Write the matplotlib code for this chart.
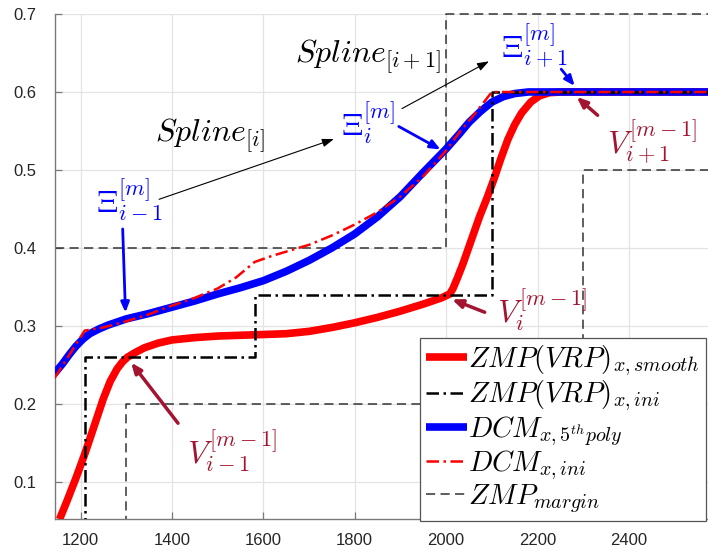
import matplotlib
matplotlib.use("Agg")
import matplotlib.pyplot as plt
import numpy as np

plt.rcParams['mathtext.fontset'] = 'cm'
plt.rcParams['font.family'] = ['Liberation Sans', 'DejaVu Sans']

# ---------------- data ----------------
zmp_smooth_x = [1154, 1170, 1190, 1210, 1230, 1250, 1265, 1280, 1292, 1303, 1320, 1340, 1370, 1400,
                1450, 1500, 1550, 1600, 1650, 1700, 1750, 1800, 1850, 1900, 1950, 1990, 2008,
                2015, 2025, 2037, 2055, 2073, 2090, 2105, 2120, 2135, 2150, 2165, 2185, 2204,
                2225, 2250, 2600]
zmp_smooth_y = [0.052, 0.075, 0.105, 0.137, 0.172, 0.207, 0.229, 0.245, 0.254, 0.260, 0.266, 0.272,
                0.278, 0.282, 0.285, 0.287, 0.288, 0.289, 0.290, 0.293, 0.298, 0.304, 0.311, 0.319,
                0.328, 0.336, 0.341, 0.348, 0.362, 0.380, 0.410, 0.440, 0.465, 0.489, 0.515, 0.539,
                0.558, 0.573, 0.587, 0.595, 0.599, 0.600, 0.600]

zmp_ini_x = [1209, 1209, 1581, 2100, 2600]
zmp_ini_y = [0.0, 0.26, 0.34, 0.60, 0.60]

dcm_poly_x = [1143, 1160, 1175, 1190, 1205, 1220, 1240, 1260, 1280, 1300, 1350, 1400, 1450, 1500,
              1550, 1600, 1650, 1700, 1750, 1800, 1850, 1900, 1950, 2000, 2030, 2050, 2075, 2100,
              2125, 2150, 2180, 2226, 2600]
dcm_poly_y = [0.239, 0.251, 0.263, 0.274, 0.283, 0.290, 0.296, 0.301, 0.305, 0.309, 0.316, 0.324,
              0.332, 0.341, 0.349, 0.358, 0.370, 0.384, 0.400, 0.418, 0.440, 0.466, 0.497, 0.527,
              0.547, 0.561, 0.575, 0.587, 0.594, 0.598, 0.600, 0.600, 0.600]

dcm_ini_x = [1143, 1209, 1250, 1300, 1350, 1400, 1450, 1500, 1540, 1581, 1620, 1660, 1700, 1750,
             1800, 1850, 1900, 1950, 2000, 2030, 2060, 2100, 2600]
dcm_ini_y = [0.233, 0.294, 0.298, 0.306, 0.315, 0.326, 0.336, 0.348, 0.362, 0.382, 0.390, 0.397,
             0.404, 0.416, 0.430, 0.446, 0.466, 0.492, 0.525, 0.549, 0.570, 0.600, 0.600]

margin_up_x = [1143, 2000, 2600]
margin_up_y = [0.40, 0.70, 0.70]
margin_lo_x = [1300, 1300, 2300, 2600]
margin_lo_y = [0.0, 0.20, 0.50, 0.50]

xticks = [1200, 1400, 1600, 1800, 2000, 2200, 2400]
yticks = [0.1, 0.2, 0.3, 0.4, 0.5, 0.6, 0.7]

labels = [r'$ZMP(VRP)_{x,smooth}$', r'$ZMP(VRP)_{x,ini}$', r'$DCM_{x,5^{th}poly}$',
          r'$DCM_{x,ini}$', r'$ZMP_{margin}$']

# ---------------- figure ----------------
W, H = 708, 553
fig = plt.figure(figsize=(W / 100, H / 100), dpi=100)
xlim = (1143, 2600)
ppx = 0.457  # px per unit
left_px, top_px, bot_px = 54.5, 14.0, 519.3
width_px = (xlim[1] - xlim[0]) * ppx
ax = fig.add_axes([left_px / W, 1 - bot_px / H, width_px / W, (bot_px - top_px) / H])
ax.set_xlim(*xlim)
ax.set_ylim(0.052, 0.7)

darkred = '#A2142F'

l1, = ax.plot(zmp_smooth_x, zmp_smooth_y, color='red', lw=5.5, solid_capstyle='butt',
              solid_joinstyle='round', zorder=3)
l2, = ax.plot(zmp_ini_x, zmp_ini_y, color='black', lw=1.8, drawstyle='steps-post',
              dashes=(5, 1.8, 1, 1.8), zorder=4)
l3, = ax.plot(dcm_poly_x, dcm_poly_y, color='blue', lw=5.5, solid_capstyle='butt',
              solid_joinstyle='round', zorder=3)
l4, = ax.plot(dcm_ini_x, dcm_ini_y, color='red', lw=1.8, dashes=(5, 1.8, 1, 1.8), zorder=4)
l5, = ax.plot(margin_up_x, margin_up_y, color='#333333', lw=1.1, drawstyle='steps-post',
              dashes=(6, 3.5), zorder=2, clip_on=False)
ax.plot(margin_lo_x, margin_lo_y, color='#333333', lw=1.1, drawstyle='steps-post',
        dashes=(6, 3.5), zorder=2)

# axes styling
ax.set_xticks(xticks)
ax.set_yticks(yticks)
ax.set_xticklabels([str(t) for t in xticks])
ax.set_yticklabels([f'{t:.1f}' for t in yticks])
ax.grid(True, color='#e3e3e3', lw=0.9)
ax.set_axisbelow(True)
for s in ['top', 'right']:
    ax.spines[s].set_visible(False)
for s in ['left', 'bottom']:
    ax.spines[s].set_color('#7a7a7a')
    ax.spines[s].set_linewidth(1.0)
ax.tick_params(axis='both', direction='in', length=5, width=0.9, color='#7a7a7a',
               labelsize=12, labelcolor='#262626')
ax.tick_params(axis='y', pad=13)
ax.tick_params(axis='x', pad=10)

# annotations
fs = 23
ax.text(1362, 0.5357, r'$Spline_{[i]}$', fontsize=fs, color='black', ha='left', va='baseline')
ax.annotate('', xy=(1760, 0.5408), xytext=(1366, 0.4612),
            arrowprops=dict(arrowstyle='-|>,head_length=0.7,head_width=0.25', color='black', lw=0.8))
ax.text(1670, 0.637, r'$Spline_{[i+1]}$', fontsize=fs, color='black', ha='left', va='baseline')
ax.annotate('', xy=(2099, 0.641), xytext=(1898, 0.577),
            arrowprops=dict(arrowstyle='-|>,head_length=0.7,head_width=0.25', color='black', lw=0.8))

blue_arrow = dict(arrowstyle='-|>,head_length=0.6,head_width=0.25', color='blue', lw=2.0)
ax.text(1234, 0.4462, r'$\Xi^{[m]}_{i-1}$', fontsize=fs, color='blue', ha='left', va='baseline')
ax.annotate('', xy=(1298.5, 0.3136), xytext=(1292, 0.4279), arrowprops=blue_arrow)
ax.text(1770, 0.5447, r'$\Xi^{[m]}_{i}$', fontsize=fs, color='blue', ha='left', va='baseline')
ax.annotate('', xy=(1993, 0.5245), xytext=(1891, 0.5575), arrowprops=blue_arrow)
ax.text(2121, 0.6448, r'$\Xi^{[m]}_{i+1}$', fontsize=fs, color='blue', ha='left', va='baseline')
ax.annotate('', xy=(2285, 0.605), xytext=(2248, 0.632), arrowprops=blue_arrow)

red_arrow = dict(arrowstyle='-|>,head_length=0.6,head_width=0.25', color=darkred, lw=2.5)
ax.text(2351, 0.5216, r'$V^{[m-1]}_{i+1}$', fontsize=fs, color=darkred, ha='left', va='baseline')
ax.annotate('', xy=(2281, 0.596), xytext=(2336, 0.5678), arrowprops=red_arrow)
ax.text(2112, 0.3046, r'$V^{[m-1]}_{i}$', fontsize=fs, color=darkred, ha='left', va='baseline')
ax.annotate('', xy=(2007, 0.3354), xytext=(2090, 0.3162), arrowprops=red_arrow)
ax.text(1432, 0.1236, r'$V^{[m-1]}_{i-1}$', fontsize=fs, color=darkred, ha='left', va='baseline')
ax.annotate('', xy=(1307, 0.2558), xytext=(1417, 0.1724), arrowprops=red_arrow)

leg = fig.legend([l1, l2, l3, l4, l5], labels, loc='upper left',
                 bbox_to_anchor=(420 / W, 1 - 338 / H), bbox_transform=fig.transFigure,
                 borderaxespad=0, fontsize=20.5, fancybox=False, framealpha=1,
                 edgecolor='#555555', handlelength=1.45, handletextpad=0.05,
                 borderpad=0.2, labelspacing=0.02)
leg.get_frame().set_linewidth(0.9)

fig.savefig('out.png', dpi=100)
